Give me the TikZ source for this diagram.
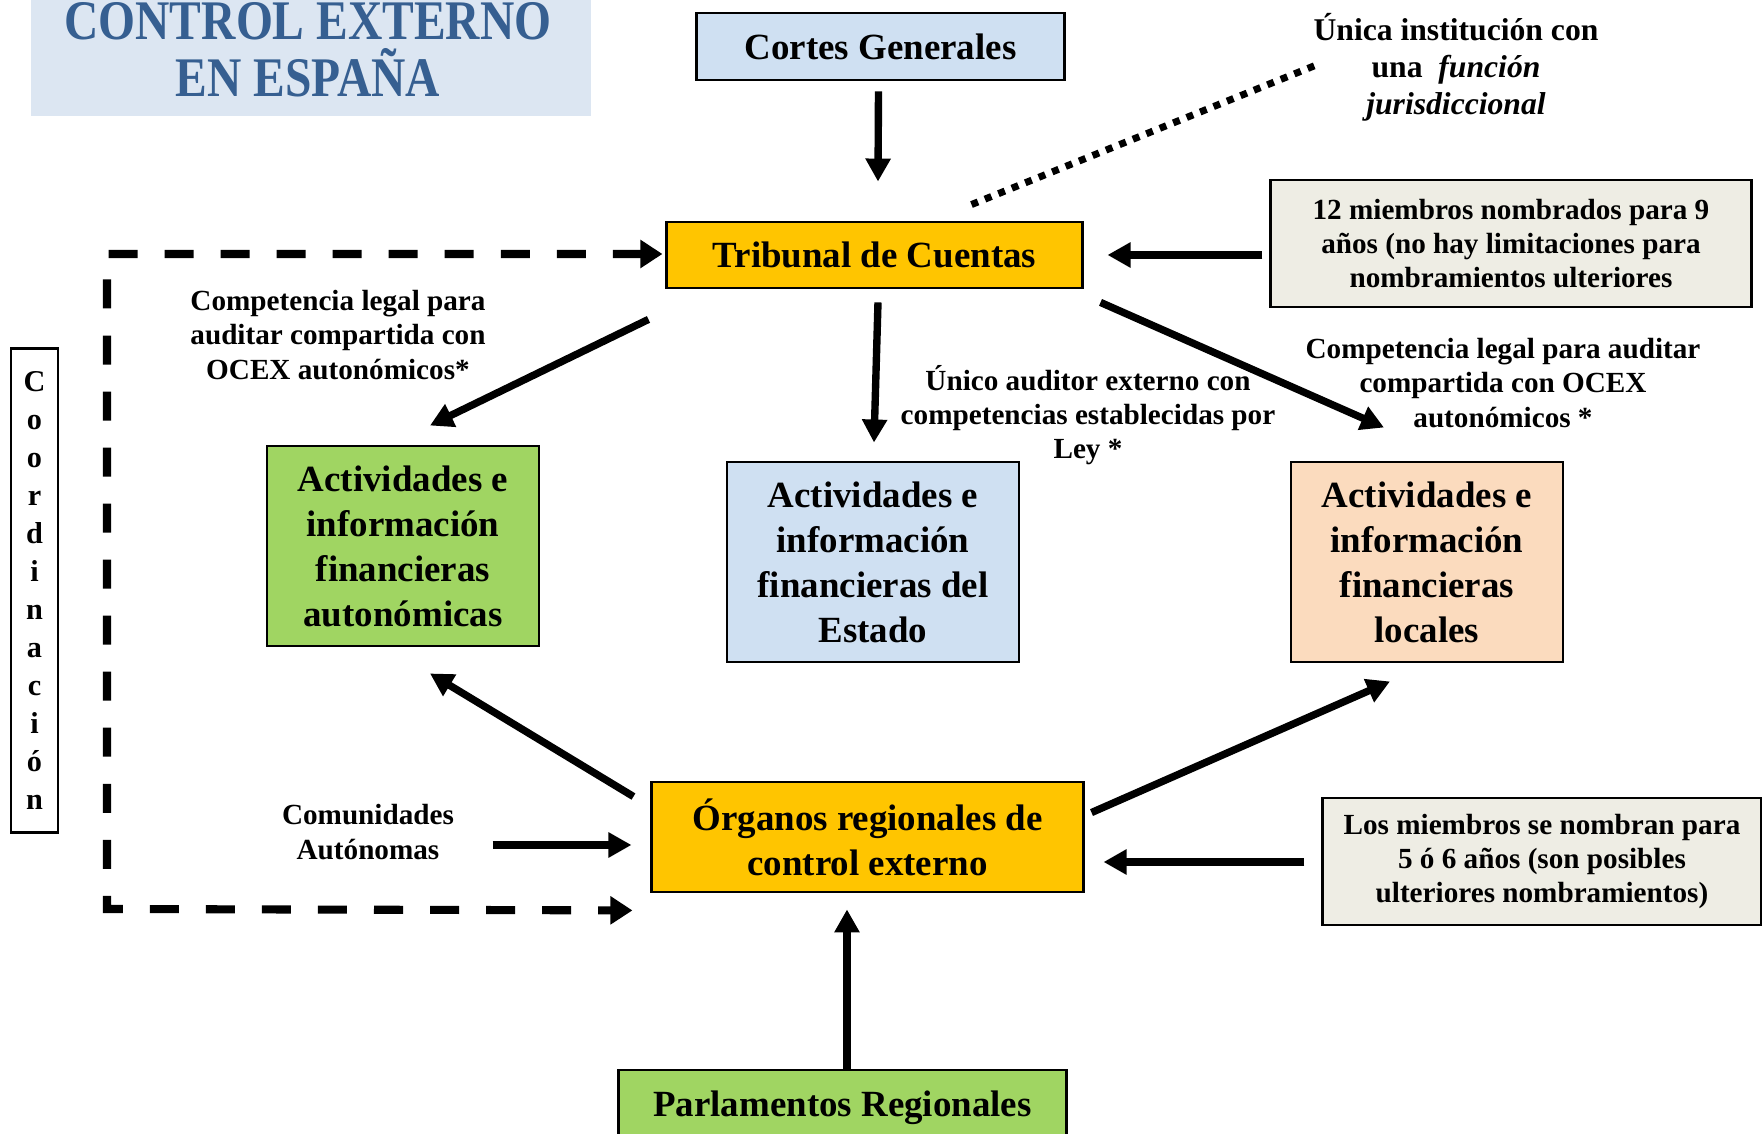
\documentclass[tikz,border=0pt]{standalone}
\usepackage{fontspec}
\setmainfont{Liberation Serif}
\newfontfamily\titlefont[FakeStretch=0.85]{Liberation Serif}
\usetikzlibrary{arrows.meta,calc}

\definecolor{tituloFondo}{RGB}{220,230,242}
\definecolor{tituloTexto}{RGB}{54,95,145}
\definecolor{azulClaro}{RGB}{207,224,242}
\definecolor{oro}{RGB}{255,197,0}
\definecolor{verde}{RGB}{160,213,98}
\definecolor{melocoton}{RGB}{251,219,190}
\definecolor{grisClaro}{RGB}{238,237,228}

\begin{document}
\begin{tikzpicture}[x=0.01cm, y=-0.01cm,
    boxStyle/.style={draw, line width=0.8pt, align=center, font=\fontsize{10.5}{12.8}\selectfont\bfseries},
    noteStyle/.style={draw, line width=0.8pt, fill=grisClaro, align=center, font=\fontsize{8.3}{9.75}\selectfont\bfseries},
    labelStyle/.style={align=center, inner sep=0pt, font=\fontsize{8.3}{9.75}\selectfont\bfseries},
    arrowStyle/.style={line width=2.1pt, -{Triangle[length=0.23cm, width=0.24cm]}},
    dashStyle/.style={line width=2.3pt, dash pattern=on 0.29cm off 0.27cm,
        {Triangle[length=0.22cm, width=0.27cm]}-{Triangle[length=0.22cm, width=0.27cm]}},
    dotStyle/.style={line width=0.07cm, dash pattern=on 0.07cm off 0.075cm}]
    \useasboundingbox (0,0) rectangle (1762,1134);

    % title
    \fill[tituloFondo] (31,0) rectangle (591,116);
    \node[font=\titlefont\fontsize{15.9}{16.2}\selectfont\bfseries, text=tituloTexto, align=center, inner sep=0pt] (titulo) at (308,50) {CONTROL EXTERNO\\EN ESPAÑA};

    % boxes
    \node[boxStyle, fill=azulClaro, minimum width=3.67cm, minimum height=0.67cm] (cortes) at (880.5,46.5) {Cortes Generales};
    \node[boxStyle, fill=oro, minimum width=4.15cm, minimum height=0.66cm] (trib) at (874.5,255) {Tribunal de Cuentas};
    \node[boxStyle, fill=verde, minimum width=2.72cm, minimum height=2cm] (aut) at (403,546) {Actividades e\\información\\financieras\\autonómicas};
    \node[boxStyle, fill=azulClaro, minimum width=2.92cm, minimum height=2cm] (est) at (873,562) {Actividades e\\información\\financieras del\\Estado};
    \node[boxStyle, fill=melocoton, minimum width=2.72cm, minimum height=2cm] (loc) at (1427,562) {Actividades e\\información\\financieras\\locales};
    \node[boxStyle, fill=oro, minimum width=4.31cm, minimum height=1.1cm] (org) at (867.5,837) {Órganos regionales de\\control externo};
    \node[boxStyle, fill=verde, minimum width=4.47cm, minimum height=0.76cm] (parl) at (842.5,1108) {Parlamentos Regionales};
    \node[noteStyle, minimum width=4.8cm, minimum height=1.27cm] (nota1) at (1511,243.5) {12 miembros nombrados para 9\\años (no hay limitaciones para\\nombramientos ulteriores};
    \node[noteStyle, minimum width=4.38cm, minimum height=1.27cm] (nota2) at (1542,861.5) {Los miembros se nombran para\\5 ó 6 años (son posibles\\ulteriores nombramientos)};
    \node[draw, line width=0.8pt, minimum width=0.47cm, minimum height=4.83cm, align=center, font=\fontsize{8.6}{10.8}\selectfont\bfseries] (coord) at (34.5,590.5) {C\\o\\o\\r\\d\\i\\n\\a\\c\\i\\ó\\n};

    % labels
    \node[labelStyle] (lblAut) at (338,335) {Competencia legal para\\auditar compartida con\\OCEX autonómicos*};
    \node[labelStyle] (lblEst) at (1088,415) {Único auditor externo con\\competencias establecidas por\\Ley *};
    \node[labelStyle] (lblLoc) at (1503,383) {Competencia legal para auditar\\compartida con OCEX\\autonómicos *};
    \node[labelStyle, font=\fontsize{9}{10.5}\selectfont\bfseries] (lblUnica) at (1456,67) {Única institución con\\una\ \ \textit{función}\\\textit{jurisdiccional}};
    \node[labelStyle] (com) at (368,832) {Comunidades\\Autónomas};
    \coordinate (esquina) at (107,909);

    % connectors
    \draw[arrowStyle] ($(cortes.south)+(-2,10)$) -- ($(trib.north)+(3.5,-39)$);
    \draw[dotStyle] ($(trib.north)+(97,-16)$) -- ($(lblUnica.west)+(6,-3)$);
    \draw[arrowStyle] ($(nota1.west)+(-7,11.5)$) -- ($(trib.east)+(24,0)$);
    \draw[arrowStyle] ($(trib.south west)+(-17,30)$) -- ($(aut.north)+(27,-19)$);
    \draw[arrowStyle] ($(trib.south)+(3.5,13)$) -- ($(est.north)+(1,-18)$);
    \draw[arrowStyle] ($(trib.south east)+(17,13)$) -- ($(loc.north)+(-43,-33)$);
    \draw[arrowStyle] ($(org.north west)+(-17,16)$) -- ($(aut.south)+(27,26)$);
    \draw[arrowStyle] ($(org.north east)+(7,32)$) -- ($(loc.south)+(-37,18)$);
    \draw[arrowStyle] ($(com.east)+(38,13)$) -- ($(org.west)+(-19,8)$);
    \draw[arrowStyle] ($(nota2.west)+(-17,0.5)$) -- ($(org.east)+(19,25)$);
    \draw[arrowStyle] ($(parl.north)+(4.5,0)$) -- ($(org.south)+(-20.5,16)$);
    \draw[dashStyle] ($(trib.west)+(-3,-1)$) -| (esquina) -- ($(org.south west)+(-18,17)$);
\end{tikzpicture}
\end{document}
